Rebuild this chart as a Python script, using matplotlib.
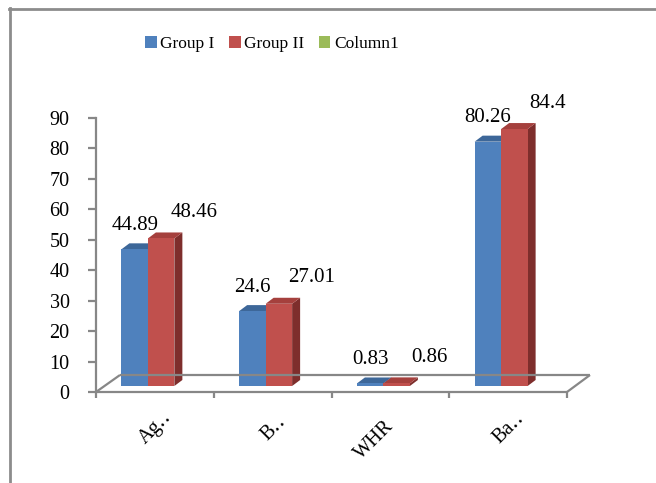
import matplotlib
matplotlib.use("Agg")
import matplotlib.pyplot as plt
from matplotlib.patches import Polygon, Patch
from matplotlib.lines import Line2D
import numpy as np

categories = ["Ag\u2025", "B\u2025", "WHR", "Ba\u2025"]
group1 = [44.89, 24.6, 0.83, 80.26]
group2 = [48.46, 27.01, 0.86, 84.4]
series_names = ["Group I", "Group II", "Column1"]
yticks = [0, 10, 20, 30, 40, 50, 60, 70, 80, 90]

BLUE, BLUE_TOP, BLUE_SIDE = "#4F81BD", "#3D6799", "#2F5180"
RED, RED_TOP, RED_SIDE = "#C0504D", "#A5403D", "#7E2E2C"
GREEN = "#9BBB59"
GRAY = "#878787"
FONT = ["Liberation Serif", "DejaVu Serif"]

W, H = 656, 483
fig = plt.figure(figsize=(W / 100, H / 100), dpi=100)

# axes: x from 96 to 567 px, y: 0 at 392 px, 90 at 118 px
ax = fig.add_axes([96 / W, 1 - 392 / H, (567 - 96) / W, (392 - 118) / H])
ax.set_xlim(-0.5, 3.5)
ax.set_ylim(0, 90)
for s in ["top", "right", "bottom"]:
    ax.spines[s].set_visible(False)
ax.spines["left"].set_color(GRAY)
ax.spines["left"].set_linewidth(1.6)
ax.set_yticks(yticks)
ax.set_yticklabels([str(v) for v in yticks], fontfamily=FONT, fontsize=14.5)
ax.tick_params(axis="y", length=6, width=1.6, color=GRAY, pad=13)
ax.set_xticks([])

# unit conversions
px_x = (567 - 96) / 4.0      # pixels per category
px_y = (392 - 118) / 90.0    # pixels per unit
def dxu(p): return p / px_x
def dyu(p): return p / px_y

# floor
fx0, fx1 = -0.5, 3.5
floor_kw = dict(color=GRAY, lw=1.6, clip_on=False, solid_capstyle="butt")
ax.plot([fx0, fx1], [0, 0], **floor_kw)
ax.plot([fx0 + dxu(24), fx1 + dxu(23)], [dyu(17), dyu(17)], **floor_kw)
ax.plot([fx0, fx0 + dxu(24)], [0, dyu(17)], **floor_kw)
ax.plot([fx1, fx1 + dxu(23)], [0, dyu(17)], **floor_kw)
for b in np.arange(-0.5, 3.6, 1.0):
    ax.plot([b, b], [0, -dyu(6)], **floor_kw)

# bars
x = np.arange(len(categories))
w = 0.225
shift_x, shift_y = dxu(-7), dyu(6)
ddx, ddy = dxu(8), dyu(6)

def draw_bar(xc, h, front, top, side):
    x0, x1 = xc - w / 2 + shift_x, xc + w / 2 + shift_x
    y0, y1 = shift_y, shift_y + h
    ax.add_patch(Polygon([(x1, y0), (x1, y1), (x1 + ddx, y1 + ddy), (x1 + ddx, y0 + ddy)],
                         closed=True, facecolor=side, edgecolor="none", clip_on=False))
    ax.add_patch(Polygon([(x0, y1), (x1, y1), (x1 + ddx, y1 + ddy), (x0 + ddx, y1 + ddy)],
                         closed=True, facecolor=top, edgecolor="none", clip_on=False))
    ax.bar(xc + shift_x, h, width=w, bottom=y0, color=front, clip_on=False)

for i in range(len(categories)):
    draw_bar(x[i] - w / 2, group1[i], BLUE, BLUE_TOP, BLUE_SIDE)
    draw_bar(x[i] + w / 2, group2[i], RED, RED_TOP, RED_SIDE)

# value labels
for i in range(len(categories)):
    ax.annotate(f"{group1[i]:g}", (x[i] - w / 2, group1[i]), xytext=(-7, 30),
                textcoords="offset pixels", ha="center", va="center",
                fontfamily=FONT, fontsize=15, annotation_clip=False)
    ax.annotate(f"{group2[i]:g}", (x[i] + w / 2, group2[i]), xytext=(26, 32),
                textcoords="offset pixels", ha="center", va="center",
                fontfamily=FONT, fontsize=15, annotation_clip=False)

# category labels (rotated, centred below each category)
label_nudge = [(0, 0), (0, 0), (-17, -12), (0, 0)]
for i, c in enumerate(categories):
    nx, ny = label_nudge[i]
    ax.annotate(c, (x[i], 0), xytext=(1 + nx, -36 + ny), textcoords="offset pixels",
                rotation=45, rotation_mode="anchor", ha="center", va="center",
                fontfamily=FONT, fontsize=14.5, annotation_clip=False)

# legend
handles = [Patch(facecolor=BLUE), Patch(facecolor=RED), Patch(facecolor=GREEN)]
leg = fig.legend(handles, series_names, loc="center", bbox_to_anchor=(272 / W, 1 - 44 / H),
                 ncol=3, frameon=False, handlelength=0.65, handleheight=0.65,
                 handletextpad=0.2, columnspacing=0.85,
                 prop={"family": FONT, "size": 12.5})

# outer frame (left and top edges)
fig.add_artist(Line2D([9.5 / W, 9.5 / W], [0, 1 - 8 / H], transform=fig.transFigure,
                      color="#8C8C8C", lw=2))
fig.add_artist(Line2D([8.5 / W, 1], [1 - 8.5 / H, 1 - 8.5 / H], transform=fig.transFigure,
                      color="#8C8C8C", lw=2))

fig.savefig("out.png", dpi=100)
